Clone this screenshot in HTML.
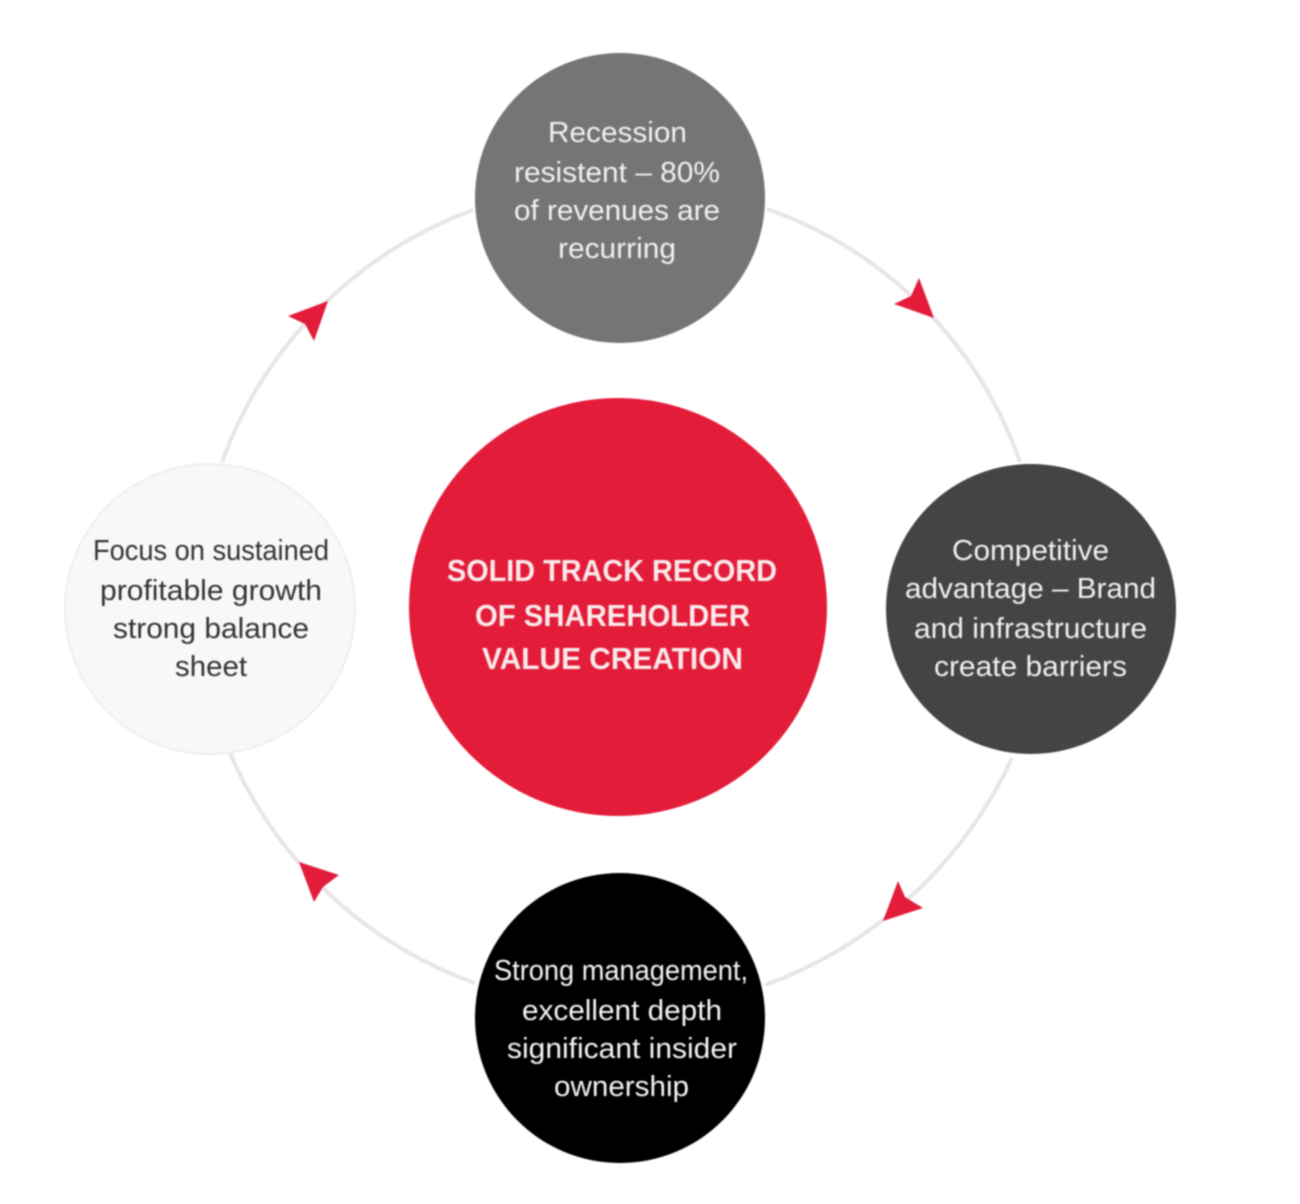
<!DOCTYPE html>
<html>
<head>
<meta charset="utf-8">
<style>
html,body{margin:0;padding:0;background:#fff;}
svg{display:block;filter:blur(0.7px);}
text{font-family:"Liberation Sans",sans-serif;text-anchor:middle;}
</style>
</head>
<body>
<svg width="1300" height="1204" viewBox="0 0 1300 1204" xmlns="http://www.w3.org/2000/svg">
<g fill="none" stroke="#e8e5e6" stroke-width="4">
<path d="M767 209 A411 411 0 0 1 1020 462"/>
<path d="M1012 758 A437 437 0 0 1 765 985"/>
<path d="M475 983 A421 421 0 0 1 230 753"/>
<path d="M222 462 A422 422 0 0 1 473 210"/>
</g>
<circle cx="620" cy="198" r="145" fill="#757575"/>
<circle cx="1031" cy="609" r="145" fill="#444444"/>
<circle cx="620" cy="1018" r="145" fill="#000000"/>
<circle cx="210" cy="609" r="145" fill="#f8f8f8" stroke="#eeeeee" stroke-width="2"/>
<circle cx="618" cy="607" r="209" fill="#e31c3a"/>
<polygon points="919,278 934,318 894,304 911,296" fill="#e31c3a"/>
<polygon points="898,881 905,897 923,908 883,921" fill="#e31c3a"/>
<polygon points="299,862 339,875 323,887 314,902" fill="#e31c3a"/>
<polygon points="328,301 314,341 305,324 288,316" fill="#e31c3a"/>
<g font-size="29" fill="#f0f0f0" lengthAdjust="spacingAndGlyphs">
<text x="617.5" y="142" textLength="139" lengthAdjust="spacingAndGlyphs">Recession</text>
<text x="617" y="182" textLength="206" lengthAdjust="spacingAndGlyphs">resistent – 80%</text>
<text x="617" y="220" textLength="206" lengthAdjust="spacingAndGlyphs">of revenues are</text>
<text x="617" y="258" textLength="118" lengthAdjust="spacingAndGlyphs">recurring</text>
<text x="1030.5" y="560" textLength="157" lengthAdjust="spacingAndGlyphs">Competitive</text>
<text x="1030.5" y="598" textLength="251" lengthAdjust="spacingAndGlyphs">advantage – Brand</text>
<text x="1030.5" y="638" textLength="233" lengthAdjust="spacingAndGlyphs">and infrastructure</text>
<text x="1030.5" y="676" textLength="193" lengthAdjust="spacingAndGlyphs">create barriers</text>
</g>
<g font-size="29" fill="#f4f4f4">
<text x="621" y="980" textLength="254" lengthAdjust="spacingAndGlyphs">Strong management,</text>
<text x="622" y="1020" textLength="200" lengthAdjust="spacingAndGlyphs">excellent depth</text>
<text x="622" y="1058" textLength="230" lengthAdjust="spacingAndGlyphs">significant insider</text>
<text x="621.5" y="1096" textLength="135" lengthAdjust="spacingAndGlyphs">ownership</text>
</g>
<g font-size="29" fill="#333333">
<text x="211" y="560" textLength="236" lengthAdjust="spacingAndGlyphs">Focus on sustained</text>
<text x="211" y="600" textLength="222" lengthAdjust="spacingAndGlyphs">profitable growth</text>
<text x="211" y="638" textLength="196" lengthAdjust="spacingAndGlyphs">strong balance</text>
<text x="211" y="676" textLength="72" lengthAdjust="spacingAndGlyphs">sheet</text>
</g>
<g font-size="31" font-weight="bold" fill="#fbeaeb">
<text x="612" y="581" textLength="330" lengthAdjust="spacingAndGlyphs">SOLID TRACK RECORD</text>
<text x="612.5" y="626" textLength="275" lengthAdjust="spacingAndGlyphs">OF SHAREHOLDER</text>
<text x="612.5" y="669" textLength="261" lengthAdjust="spacingAndGlyphs">VALUE CREATION</text>
</g>
</svg>
</body>
</html>
